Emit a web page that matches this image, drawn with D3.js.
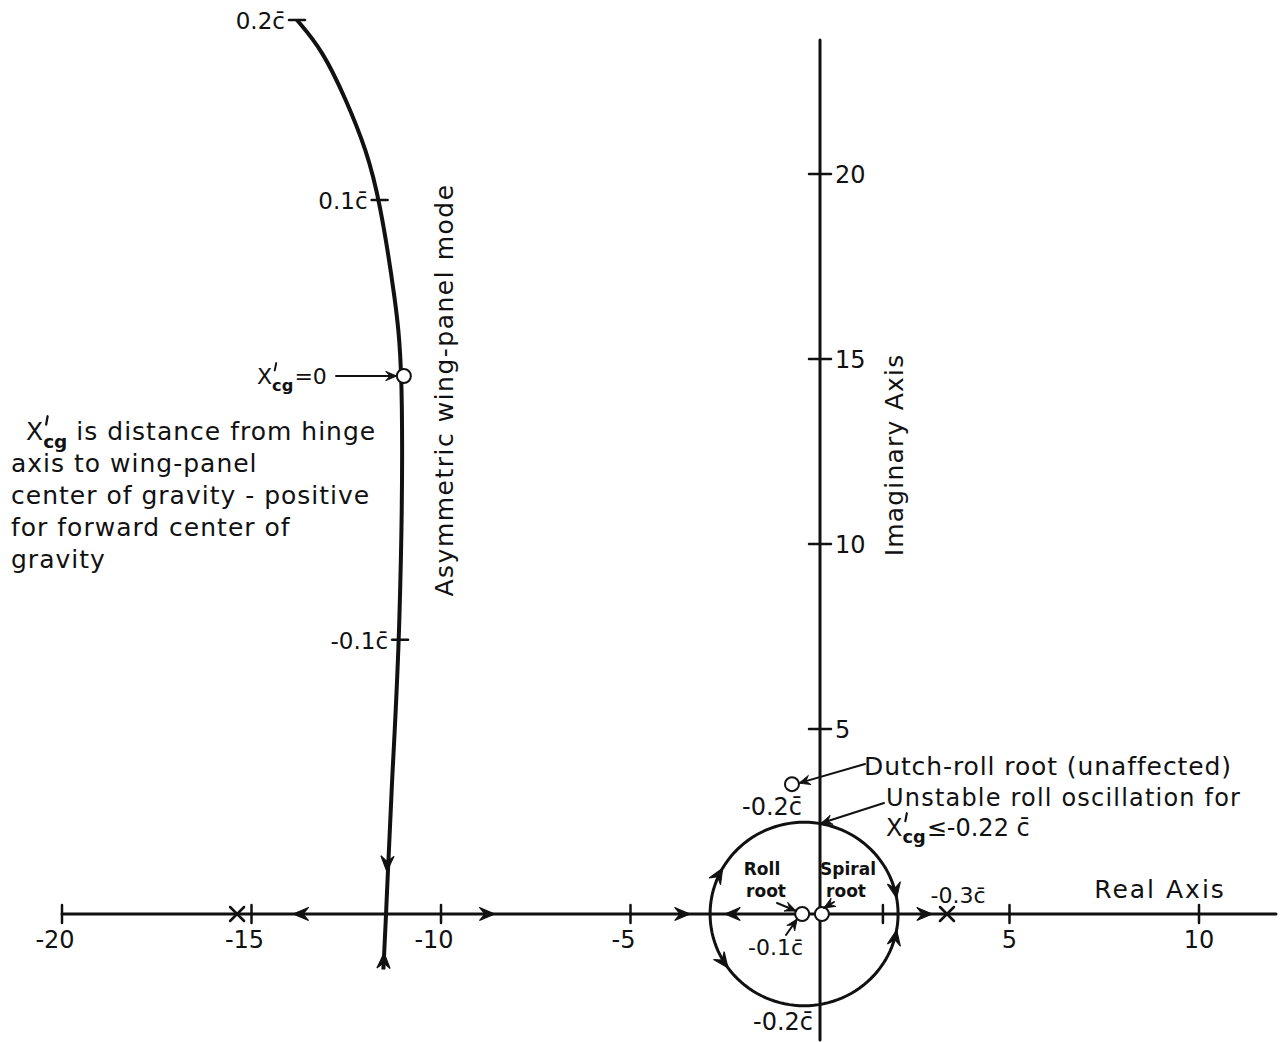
<!DOCTYPE html>
<html><head><meta charset="utf-8">
<script src="https://cdn.jsdelivr.net/npm/d3@7"></script>
<style>
body{margin:0;background:#fff}
svg{display:block;background:#fff}
text{font-family:"DejaVu Sans",sans-serif;fill:#111}
</style>
</head><body><svg id="c" width="1286" height="1042"></svg>
<script>
// ---------- data ----------
const realTicks = [-20, -15, -10, -5, 5, 10];
const imagTicks = [5, 10, 15, 20];
// asymmetric wing-panel mode locus (upper branch), from X'cg = 0.2c down to the real axis
const wingRe = [-13.80, -13.13, -12.50, -11.97, -11.62, -11.20, -10.98, -11.08, -11.29, -11.45];
const wingIm = [24.16, 23.35, 22.0, 20.65, 19.3, 16.6, 14.54, 7.41, 3.8, 0];
// lower (conjugate) stub below the real axis
const wingLowRe = [-11.45, -11.52];
const wingLowIm = [0, -1.5];
// marks on the wing locus
const wingMarkLabels = ["0.2c\u0304", "0.1c\u0304", "-0.1c\u0304"];
const wingMarkRe = [-13.80, -11.62, -11.08];
const wingMarkIm = [24.16, 19.3, 7.41];
// roll-oscillation circle
const circleCenter = -0.42;
const circleRadius = 2.48;
const circleArrowAngles = [150, 216, 10, 350];
const circleArrowDirs = [-1, 1, -1, 1];
// real-axis arrows
const realArrowRe = [-13.9, -8.58, -3.43, -2.51, 2.96];
const realArrowDirs = [-1, 1, 1, -1, 1];
// poles (x) and roots (o)
const poleRe = [-15.38, 3.35];
const rollRoot = [-0.47, 0];
const spiralRoot = [0.05, 0];
const dutchRoot = [-0.74, 3.51];
const xcgZero = [-10.98, 14.54];
const realAxisMark = 1.66;

// ---------- setup ----------
const svg = d3.select("#c");
const x = d3.scaleLinear().domain([-20, 10]).range([62, 1199]);
const y = d3.scaleLinear().domain([0, 20]).range([914, 174]);
const ink = "#111";

function arrow(px, py, ang, s = 1) {
  svg.append("path")
    .attr("d", "M0,0 L-14,-6 L-9,0 L-14,6 Z")
    .attr("transform", `translate(${px},${py}) rotate(${ang}) scale(${s})`)
    .attr("fill", ink).attr("stroke", ink).attr("stroke-width", 1);
}
function line(x1, y1, x2, y2, w = 2) {
  svg.append("line").attr("x1", x1).attr("y1", y1).attr("x2", x2).attr("y2", y2)
    .attr("stroke", ink).attr("stroke-width", w).attr("stroke-linecap", "round");
}
function leader(x1, y1, x2, y2) {
  line(x1, y1, x2, y2, 2);
  const a = Math.atan2(y2 - y1, x2 - x1) * 180 / Math.PI;
  arrow(x2, y2, a, 0.8);
}
function txt(t, px, py, size, anchor = "start", extra = {}) {
  const e = svg.append("text").attr("x", px).attr("y", py).attr("font-size", size)
    .attr("text-anchor", anchor).text(t);
  for (const k in extra) e.attr(k, extra[k]);
  return e;
}
// X'cg symbol followed by rest text; prime drawn as a stroke
function xcg(px, py, size, rest, ls = 0, gap = 1) {
  const X = txt("X", px, py, size);
  const xw = X.node().getComputedTextLength();
  const sub = txt("cg", px + xw, py + size * 0.3, size * 0.74, "start", {"font-weight": "bold"});
  const sw = sub.node().getComputedTextLength();
  const pxp = px + xw + size * 0.12;
  line(pxp + 1.5, py - size * 0.95, pxp, py - size * 0.62, size * 0.09);
  if (rest) txt(rest, px + xw + sw + gap, py, size, "start", {"letter-spacing": ls});
}

// ---------- axes ----------
const x0 = x(0), yAxis0 = y(0);
line(62, yAxis0, 1276, yAxis0, 3);
line(x0, 40, x0, 1040, 3);
realTicks.forEach(t => {
  line(x(t), yAxis0 - 9, x(t), yAxis0 + 9, 2.5);
  const neg = t < 0;
  txt(String(t), x(t) - (neg ? 7 : 0), yAxis0 + 34, 24, "middle");
});
imagTicks.forEach(t => {
  line(x0 - 11, y(t), x0 + 11, y(t), 2.5);
  txt(String(t), x0 + 15, y(t) + 9, 24, "start");
});
txt("Real Axis", 1160, 898, 25, "middle", {"letter-spacing": 2});
txt("Imaginary Axis", 0, 0, 25, "middle", {transform: `translate(903,455) rotate(-90)`, "letter-spacing": 1.2});

// ---------- wing-panel locus ----------
const wingPts = wingRe.map((r, i) => [x(r), y(wingIm[i])]);
svg.append("path").attr("d", d3.line().curve(d3.curveBasis)(wingPts)).attr("fill", "none")
  .attr("stroke", ink).attr("stroke-width", 4);
const lowPts = wingLowRe.map((r, i) => [x(r), y(wingLowIm[i])]);
svg.append("path").attr("d", d3.line()(lowPts)).attr("fill", "none")
  .attr("stroke", ink).attr("stroke-width", 4);
// arrows on wing locus
{
  const a = Math.atan2(wingPts[9][1] - wingPts[8][1], wingPts[9][0] - wingPts[8][0]) * 180 / Math.PI;
  arrow(x(-11.43), y(1.15), a, 1.1);
  arrow(x(-11.5), y(-1.05), a + 180, 1.1);
}
// marks and labels on wing locus
wingMarkLabels.forEach((lab, i) => {
  const px = x(wingMarkRe[i]), py = y(wingMarkIm[i]);
  line(px - 8, py, px + 8, py, 2.5);
  txt(lab, px - 12, py + 9, 23, "end");
});
// X'cg = 0 marker
{
  const px = x(xcgZero[0]), py = y(xcgZero[1]);
  leader(336, py, px - 7, py);
  svg.append("circle").attr("cx", px).attr("cy", py).attr("r", 7)
    .attr("fill", "#fff").attr("stroke", ink).attr("stroke-width", 2);
  xcg(257, py + 8, 22, "=0");
}
txt("Asymmetric wing-panel mode", 0, 0, 25, "middle", {transform: `translate(453,390) rotate(-90)`, "letter-spacing": 1.5});

// ---------- real-axis features ----------
realArrowRe.forEach((r, i) => arrow(x(r), yAxis0, realArrowDirs[i] > 0 ? 0 : 180, 1.1));
poleRe.forEach(r => {
  const px = x(r), py = yAxis0;
  line(px - 7, py - 7, px + 7, py + 7, 2.5);
  line(px - 7, py + 7, px + 7, py - 7, 2.5);
});
line(x(realAxisMark), yAxis0 - 9, x(realAxisMark), yAxis0 + 9, 2.5);

// ---------- roll-oscillation circle ----------
const circPts = d3.range(0, 361, 3).map(a => {
  const t = a * Math.PI / 180;
  return [x(circleCenter + circleRadius * Math.cos(t)), y(circleRadius * Math.sin(t))];
});
svg.append("path").attr("d", d3.line()(circPts)).attr("fill", "none")
  .attr("stroke", ink).attr("stroke-width", 3);
circleArrowAngles.forEach((a, i) => {
  const t = a * Math.PI / 180;
  const px = x(circleCenter + circleRadius * Math.cos(t)), py = y(circleRadius * Math.sin(t));
  const d = circleArrowDirs[i];
  const tx = -Math.sin(t) * d * (x(1) - x(0)), ty = Math.cos(t) * d * (y(1) - y(0));
  arrow(px, py, Math.atan2(ty, tx) * 180 / Math.PI, 1.1);
});

// roots
[rollRoot, spiralRoot, dutchRoot].forEach(p => {
  svg.append("circle").attr("cx", x(p[0])).attr("cy", y(p[1])).attr("r", 7)
    .attr("fill", "#fff").attr("stroke", ink).attr("stroke-width", 2);
});

// labels around circle
txt("-0.2c\u0304", 802, 815, 24, "end");
txt("-0.2c\u0304", 813, 1030, 24, "end");
txt("-0.1c\u0304", 803, 955, 22, "end");
txt("-0.3c\u0304", 958, 903, 22, "middle");
txt("Roll", 762, 875, 17, "middle", {"font-weight": "bold"});
txt("root", 766, 897, 17, "middle", {"font-weight": "bold"});
txt("Spiral", 848, 875, 17, "middle", {"font-weight": "bold"});
txt("root", 846, 897, 17, "middle", {"font-weight": "bold"});
leader(777, 903, x(rollRoot[0]) - 6, y(0) - 3);
leader(786, 935, x(rollRoot[0]) - 5, y(0) + 5);
leader(834, 902, x(spiralRoot[0]) + 2, y(0) - 6);

// annotations at right
leader(865, 764, x(dutchRoot[0]) + 7, y(dutchRoot[1]) - 1);
txt("Dutch-roll root (unaffected)", 864, 775, 25, "start", {"letter-spacing": 0.9});
leader(884, 803, x0 + 1, y(circleRadius) + 1);
txt("Unstable roll oscillation for", 886, 806, 24, "start", {"letter-spacing": 1.2});
xcg(886, 836, 24, "\u2264-0.22 c\u0304");

// explanatory text block
xcg(26, 440, 25, "is distance from hinge", 1, 9);
["axis to wing-panel", "center of gravity - positive", "for forward center of", "gravity"]
  .forEach((s, i) => txt(s, 11, 472 + i * 32, 25, "start", {"letter-spacing": 1}));
</script>
</body></html>
